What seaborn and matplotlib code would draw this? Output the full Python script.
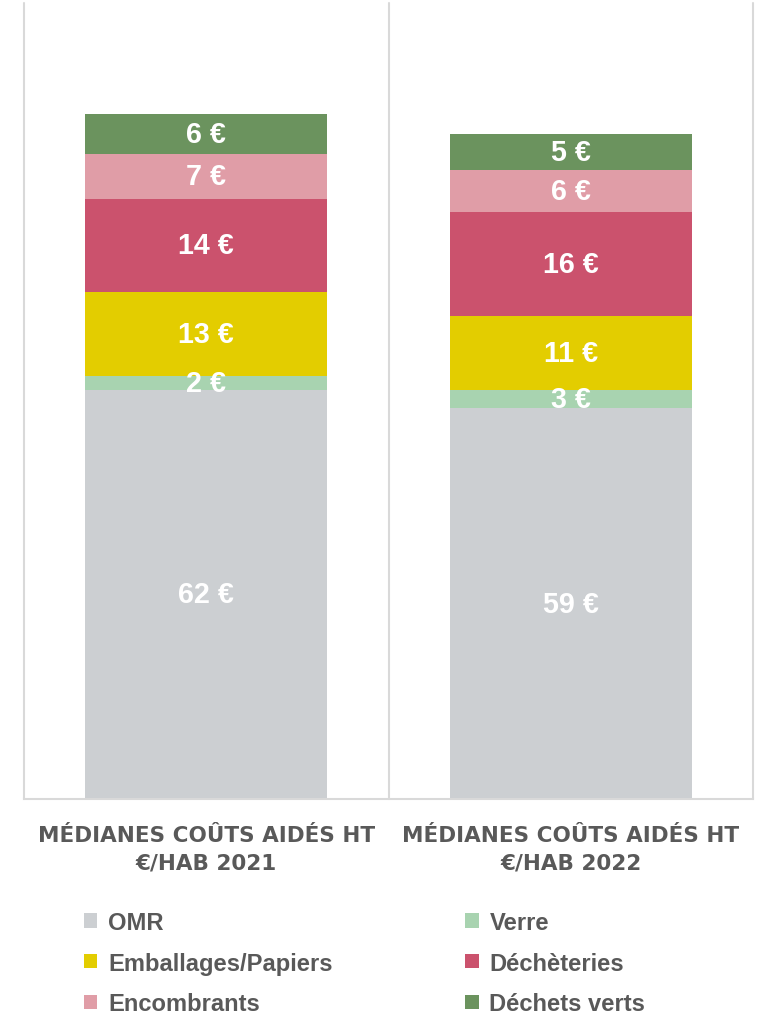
import numpy as np
import pandas as pd
import matplotlib.pyplot as plt
from matplotlib import font_manager
from matplotlib.patches import Patch
import seaborn as sns

# data (€/hab, median aided costs HT)
categories = ["MÉDIANES COÛTS AIDÉS HT\n€/HAB 2021", "MÉDIANES COÛTS AIDÉS HT\n€/HAB 2022"]
omr = [61.7, 58.9]
verre = [2.1, 2.7]
emballages = [12.7, 11.2]
decheteries = [13.9, 15.7]
encombrants = [6.9, 6.3]
dechets_verts = [6.0, 5.4]

layer_names = ["OMR", "Verre", "Emballages/Papiers", "Déchèteries", "Encombrants", "Déchets verts"]
layer_values = [omr, verre, emballages, decheteries, encombrants, dechets_verts]
layer_colors = ["#CCCFD2", "#A8D3B0", "#E3CD00", "#CB526D", "#E09DA7", "#6B935E"]

sns.set_theme(style="white")

names = {f.name for f in font_manager.fontManager.ttflist}
if "Liberation Sans Narrow" in names:
    narrow = "Liberation Sans Narrow"
    k = 1.1
else:
    narrow = "Liberation Sans"
    k = 0.9
plt.rcParams["font.family"] = [narrow, "DejaVu Sans"]

df = pd.DataFrame({"cat": categories})
for n, v in zip(layer_names, layer_values):
    df[n] = v
cum = df[layer_names].cumsum(axis=1)

fig = plt.figure(figsize=(7.69, 10.2), dpi=100)
ax = fig.add_axes([24 / 769, 1 - 800 / 1020, 729 / 769, 796 / 1020])

# stacked bars: draw tallest cumulative first, smaller ones on top
for n, c in reversed(list(zip(layer_names, layer_colors))):
    sns.barplot(x=df["cat"], y=cum[n], color=c, width=0.664, saturation=1,
                linewidth=0, ax=ax)

# centered value labels
for i in range(len(categories)):
    bottom = 0
    for n in layer_names:
        v = df.loc[i, n]
        ax.text(i, bottom + v / 2, f"{v:.0f} €", ha="center", va="center",
                color="white", fontsize=23 * k, fontweight="bold")
        bottom += v

ax.set_ylim(0, 120)
ax.set_xlim(-0.5, 1.5)
ax.set_yticks([])
ax.set_xlabel("")
ax.set_ylabel("")
for s in ["left", "right", "top"]:
    ax.spines[s].set_visible(False)
ax.spines["bottom"].set_color("#D9D9D9")
ax.spines["bottom"].set_linewidth(1.5)
for xpos in [-0.5, 0.5, 1.5]:
    ax.axvline(xpos, color="#D9D9D9", lw=1.5, clip_on=False)

ax.tick_params(axis="x", length=0, pad=19)
ax.set_xticks(range(len(categories)))
ax.set_xticklabels(categories, fontsize=15.5, fontweight="bold", color="#595959",
                   family="DejaVu Sans", linespacing=1.45)

# legend, row-major order in two columns
handles = [Patch(facecolor=c, edgecolor="none", label=n) for n, c in zip(layer_names, layer_colors)]
order = [0, 2, 4, 1, 3, 5]
leg = fig.legend([handles[j] for j in order], [layer_names[j] for j in order],
                 ncol=2, loc="upper left", bbox_to_anchor=(84 / 769, 1 - 912 / 1020),
                 frameon=False, fontsize=19 * k, handlelength=0.56, handleheight=0.56,
                 handletextpad=0.45, columnspacing=5.6, labelspacing=0.74,
                 borderpad=0, borderaxespad=0)
for t in leg.get_texts():
    t.set_color("#595959")
    t.set_fontweight("bold")

plt.savefig("out.png", dpi=100)
